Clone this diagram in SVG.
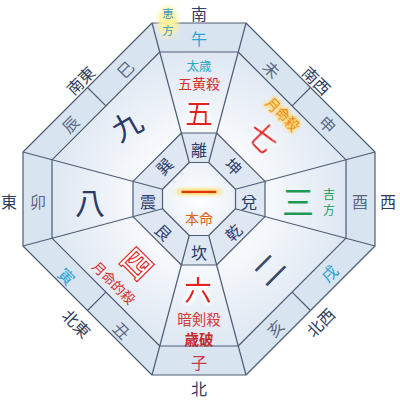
<svg xmlns="http://www.w3.org/2000/svg" width="400" height="400" viewBox="0 0 400 400">
<style>
text{font-family:"Noto Sans CJK JP","Noto Sans",sans-serif;text-anchor:middle;dominant-baseline:central}
.ln{fill:none;stroke:#4e5c74;stroke-width:1.2;stroke-linejoin:round}
.dir{font-size:16px;fill:#2f3d60}
.br{font-size:16px;fill:#5a6782}
.brb{font-size:16px;fill:#2ba3d6}
.tri{font-size:16px;fill:#2e3d6b}
.num{font-size:30px}
.red{fill:#e02424}
.navy{fill:#2c3a68}
</style>
<defs>
<radialGradient id="gMid" gradientUnits="userSpaceOnUse" cx="199" cy="199" r="160">
<stop offset="0.4" stop-color="#f7f9fc"/>
<stop offset="1" stop-color="#dbe5f1"/>
</radialGradient>
<radialGradient id="gCen" gradientUnits="userSpaceOnUse" cx="199" cy="199" r="40">
<stop offset="0" stop-color="#ffffff"/>
<stop offset="1" stop-color="#eaf0f7"/>
</radialGradient>
<filter id="glowY" x="-40%" y="-40%" width="180%" height="180%">
<feMorphology in="SourceAlpha" operator="dilate" radius="1.5" result="d"/>
<feGaussianBlur in="d" stdDeviation="1.8" result="b"/>
<feFlood flood-color="#ffd860"/>
<feComposite in2="b" operator="in" result="g"/>
<feMerge><feMergeNode in="g"/><feMergeNode in="SourceGraphic"/></feMerge>
</filter>
<filter id="glowW" x="-40%" y="-40%" width="180%" height="180%">
<feMorphology in="SourceAlpha" operator="dilate" radius="1.5" result="d"/>
<feGaussianBlur in="d" stdDeviation="1.5" result="b"/>
<feFlood flood-color="#ffffff"/>
<feComposite in2="b" operator="in" result="g"/>
<feMerge><feMergeNode in="g"/><feMergeNode in="SourceGraphic"/></feMerge>
</filter>
<filter id="blur"><feGaussianBlur stdDeviation="3"/></filter>
</defs>

<g id="rings">
<polygon points="152,23 246,23 375,152 375,246 246,375 152,375 23,246 23,152" fill="#d9e4f1"/>
<polygon points="159.8,52 238.2,52 346,159.8 346,238.2 238.2,346 159.8,346 52,238.2 52,159.8" fill="url(#gMid)"/>
<polygon points="181.4,133 216.6,133 265,181.4 265,216.6 216.6,265 181.4,265 133,216.6 133,181.4" fill="#dee7f2"/>
<polygon points="189.25,162.5 208.75,162.5 235.5,189.25 235.5,208.75 208.75,235.5 189.25,235.5 162.5,208.75 162.5,189.25" fill="url(#gCen)"/>
</g>

<g id="connectors">
<polygon class="ln" points="152,23 246,23 375,152 375,246 246,375 152,375 23,246 23,152"/>
<polygon class="ln" points="159.8,52 238.2,52 346,159.8 346,238.2 238.2,346 159.8,346 52,238.2 52,159.8"/>
<polygon class="ln" points="181.4,133 216.6,133 265,181.4 265,216.6 216.6,265 181.4,265 133,216.6 133,181.4"/>
<polygon class="ln" points="189.25,162.5 208.75,162.5 235.5,189.25 235.5,208.75 208.75,235.5 189.25,235.5 162.5,208.75 162.5,189.25"/>
<line class="ln" x1="152" y1="23" x2="189.25" y2="162.5"/>
<line class="ln" x1="246" y1="23" x2="208.75" y2="162.5"/>
<line class="ln" x1="375" y1="152" x2="235.5" y2="189.25"/>
<line class="ln" x1="375" y1="246" x2="235.5" y2="208.75"/>
<line class="ln" x1="246" y1="375" x2="208.75" y2="235.5"/>
<line class="ln" x1="152" y1="375" x2="189.25" y2="235.5"/>
<line class="ln" x1="23" y1="246" x2="162.5" y2="208.75"/>
<line class="ln" x1="23" y1="152" x2="162.5" y2="189.25"/>
<line class="ln" x1="87.5" y1="87.5" x2="105.9" y2="105.9"/>
<line class="ln" x1="310.5" y1="87.5" x2="292.1" y2="105.9"/>
<line class="ln" x1="310.5" y1="310.5" x2="292.1" y2="292.1"/>
<line class="ln" x1="87.5" y1="310.5" x2="105.9" y2="292.1"/>
</g>

<g id="directions">
<text class="dir" x="199" y="13">南</text>
<text class="dir" x="199" y="388">北</text>
<text class="dir" x="9" y="201">東</text>
<text class="dir" x="388" y="201">西</text>
<text class="dir" transform="translate(80,80) rotate(-45)">南東</text>
<text class="dir" transform="translate(317,80) rotate(45)">南西</text>
<text class="dir" transform="translate(77,323) rotate(45)">北東</text>
<text class="dir" transform="translate(320,322) rotate(-45)">北西</text>
</g>

<g id="ehou">
<ellipse cx="168" cy="22" rx="10" ry="15" fill="#fff39a" filter="url(#blur)"/>
<text x="168" y="13" font-size="11.5" fill="#3a96c8">恵</text>
<text x="168" y="30" font-size="11.5" fill="#3a96c8">方</text>
</g>

<g id="branches">
<text class="brb" x="199" y="38">午</text>
<text class="br" transform="translate(272,69) rotate(45)">未</text>
<text class="br" transform="translate(328,124) rotate(45)">申</text>
<text class="br" x="360" y="201">酉</text>
<text class="brb" transform="translate(329,273) rotate(-45)">戌</text>
<text class="br" transform="translate(275,328) rotate(-45)">亥</text>
<text x="199" y="362" font-size="16" fill="#c8384a">子</text>
<text class="br" transform="translate(122,330) rotate(45)">丑</text>
<text class="brb" transform="translate(67,276) rotate(45)">寅</text>
<text class="br" x="38" y="201">卯</text>
<text class="br" transform="translate(70,124) rotate(-45)">辰</text>
<text class="br" transform="translate(125,69) rotate(-45)">巳</text>
</g>

<g id="star-north">
<text x="199" y="65" font-size="12.5" fill="#2aa6c6">太歳</text>
<text x="199" y="83" font-size="14" fill="#d43030">五黄殺</text>
<text class="num red" x="199" y="112" filter="url(#glowW)" style="font-size:28px">五</text>
</g>
<g id="star-northeast" transform="translate(270,127) rotate(45)">
<text x="0" y="-19" font-size="13.5" fill="#e8780e" filter="url(#glowY)">月命殺</text>
<text class="num red" x="2" y="10" filter="url(#glowW)">七</text>
</g>
<g id="star-east">
<text x="298" y="200" font-size="32" fill="#1f9a52">三</text>
<text x="329" y="193" font-size="12" fill="#1f9a52">吉</text>
<text x="329" y="209" font-size="12" fill="#1f9a52">方</text>
</g>
<g id="star-southeast">
<text class="num" x="268" y="268" fill="#3a4868" transform="rotate(-45 268 268)">二</text>
</g>
<g id="star-south">
<text class="num red" x="198" y="288.5" filter="url(#glowW)" style="font-size:28px">六</text>
<text x="199" y="318.5" font-size="14.5" fill="#d43a3a">暗剣殺</text>
<text x="199" y="338.5" font-size="14.5" font-weight="bold" fill="#c62828">歳破</text>
</g>
<g id="star-southwest" transform="translate(132,266) rotate(45)">
<text x="2" y="-7" font-size="30" font-weight="bold" fill="#ffffff" stroke="#e02424" stroke-width="1.1">四</text>
<text x="-1" y="24" font-size="13.5" fill="#d43030">月命的殺</text>
</g>
<g id="star-west">
<text class="num navy" x="90" y="201">八</text>
</g>
<g id="star-northwest">
<text class="num navy" x="126" y="124" transform="rotate(-30 126 124)">九</text>
</g>

<g id="trigrams">
<text class="tri" x="199" y="149">離</text>
<text class="tri" transform="translate(234,166) rotate(45)">坤</text>
<text class="tri" x="249" y="201">兌</text>
<text class="tri" transform="translate(233,232) rotate(-45)">乾</text>
<text class="tri" x="199" y="252">坎</text>
<text class="tri" transform="translate(164,232) rotate(45)">艮</text>
<text class="tri" x="148" y="201">震</text>
<text class="tri" transform="translate(164,166) rotate(-45)">巽</text>
</g>

<g id="center">
<text transform="translate(199,191) scale(2.1,1)" x="0" y="0" font-size="18" font-weight="bold" fill="#e03414" filter="url(#glowY)">一</text>
<text x="199" y="218" font-size="14" fill="#e0601a">本命</text>
</g>
</svg>
